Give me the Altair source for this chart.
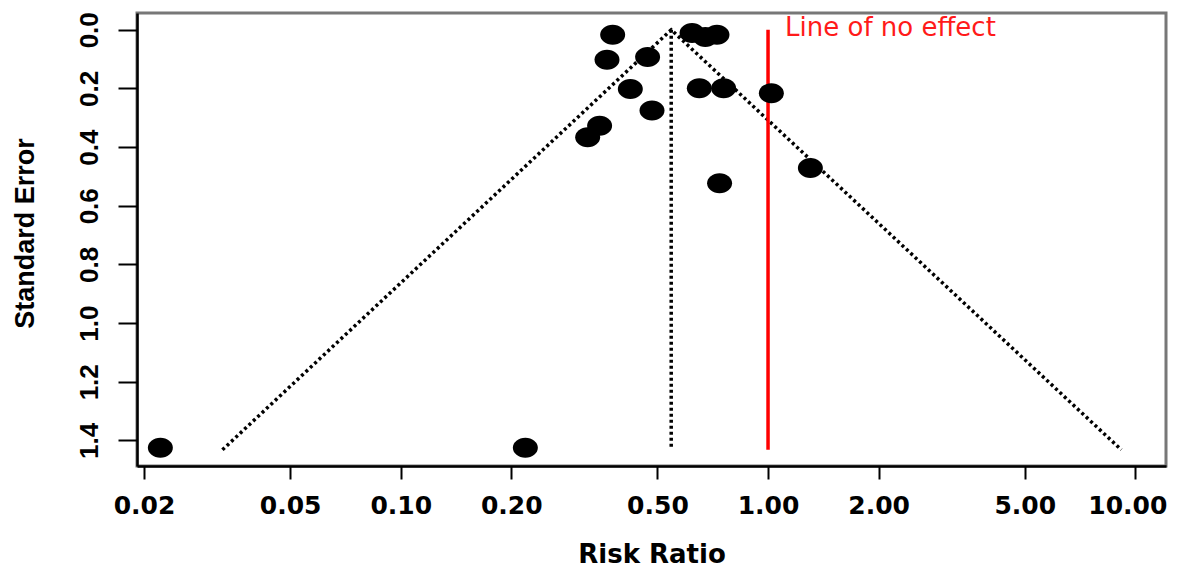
import altair as alt
import pandas as pd

# Study estimates (risk ratio) and standard errors
rr = [0.3776, 0.621, 0.675, 0.726, 0.3644, 0.470, 0.4218, 0.4832, 0.650,
      0.757, 1.021, 0.3479, 0.3228, 1.304, 0.738, 0.02216, 0.2184]
se = [0.017, 0.011, 0.025, 0.017, 0.102, 0.093, 0.202, 0.275, 0.199,
      0.199, 0.216, 0.327, 0.366, 0.4716, 0.523, 1.425, 1.425]

# Funnel outline (pseudo 95% limits)
funnel_x = [0.0327, 0.545, 9.16]
funnel_se = [1.432, 0.0, 1.432]
funnel_order = [0, 1, 2]

pooled_rr = [0.545]
null_rr = [1.0]
se_max = [1.432]
annot = ["Line of no effect"]

x_ticks = [0.02, 0.05, 0.10, 0.20, 0.50, 1.00, 2.00, 5.00, 10.00]
y_ticks = [0.0, 0.2, 0.4, 0.6, 0.8, 1.0, 1.2, 1.4]
x_domain = [0.01914, 12.12]
y_domain = [-0.0572, 1.4872]

HFONT = "DejaVu Sans"       # horizontal texts (wide, like the stretched original)
VFONT = "Liberation Sans"   # rotated texts

pts = pd.DataFrame({"rr": rr, "se": se})
fun = pd.DataFrame({"x": funnel_x, "se": funnel_se, "o": funnel_order})
center = pd.DataFrame({"x": pooled_rr, "y0": [0.0], "y1": se_max})
nullline = pd.DataFrame({"x": null_rr, "y0": [0.0], "y1": se_max, "label": annot})

xscale = alt.Scale(type="log", domain=x_domain, nice=False)
yscale = alt.Scale(domain=y_domain, reverse=True, nice=False, zero=False)

xaxis = alt.Axis(
    values=x_ticks, format=".2f", title="Risk Ratio", grid=False,
    tickSize=13, tickWidth=2, tickColor="black",
    domainColor="black", domainWidth=2.5,
    labelFont=HFONT, labelFontSize=25, labelFontWeight="bold", labelColor="black",
    labelBaseline="top", labelPadding=14, labelFlush=False, labelOverlap=False,
    labelOffset={"condition": {"test": "datum.value >= 9", "value": -8}, "value": 0},
    titleFont=HFONT, titleFontSize=26, titleFontWeight="bold", titleColor="black",
    titleX=514.5, titleY=96, titleBaseline="alphabetic", titleAlign="center",
)
yaxis = alt.Axis(
    values=y_ticks, format=".1f", title="Standard Error", grid=False,
    tickSize=19, tickWidth=2, tickColor="black",
    domainColor="black", domainWidth=2.5,
    labelFont=VFONT, labelFontSize=26, labelFontWeight="bold", labelColor="black",
    labelAngle=270, labelAlign="center", labelBaseline="alphabetic",
    labelPadding=21, labelFlush=False, labelOverlap=False,
    titleFont=VFONT, titleFontSize=27, titleFontWeight="bold", titleColor="black",
    titleAngle=270, titleX=-112, titleY=220, titleAlign="center", titleBaseline="middle",
)

funnel = alt.Chart(fun).mark_line(
    color="black", strokeWidth=3.5, strokeDash=[3, 3], strokeCap="butt"
).encode(
    x=alt.X("x:Q", scale=xscale, axis=xaxis),
    y=alt.Y("se:Q", scale=yscale, axis=yaxis),
    order="o:Q",
)

center_rule = alt.Chart(center).mark_rule(
    color="black", strokeWidth=3.5, strokeDash=[3, 3], strokeCap="butt"
).encode(
    x=alt.X("x:Q", scale=xscale),
    y=alt.Y("y0:Q", scale=yscale),
    y2="y1:Q",
)

null_rule = alt.Chart(nullline).mark_rule(color="#ff0000", strokeWidth=3.5).encode(
    x=alt.X("x:Q", scale=xscale),
    y=alt.Y("y0:Q", scale=yscale),
    y2="y1:Q",
)

null_text = alt.Chart(nullline).mark_text(
    color="#ff1a1a", font=HFONT, fontSize=26, align="left",
    baseline="alphabetic", dx=17, dy=6,
).encode(
    x=alt.X("x:Q", scale=xscale),
    y=alt.Y("y0:Q", scale=yscale),
    text="label:N",
)

ellipse = "M -1 0 A 1 0.8 0 1 0 1 0 A 1 0.8 0 1 0 -1 0 Z"
points = alt.Chart(pts).mark_point(
    shape=ellipse, filled=True, color="black", opacity=1, size=625
).encode(
    x=alt.X("rr:Q", scale=xscale),
    y=alt.Y("se:Q", scale=yscale),
)

chart = alt.layer(funnel, center_rule, null_rule, null_text, points).properties(
    width=1029,
    height=453,
    autosize=alt.AutoSizeParams(type="none"),
    padding={"left": 129, "top": 5, "right": 3, "bottom": 101},
    background="white",
).configure_view(stroke="#777777", strokeWidth=3)

chart.save("out.html", embed_options={"renderer": "svg", "actions": False})
